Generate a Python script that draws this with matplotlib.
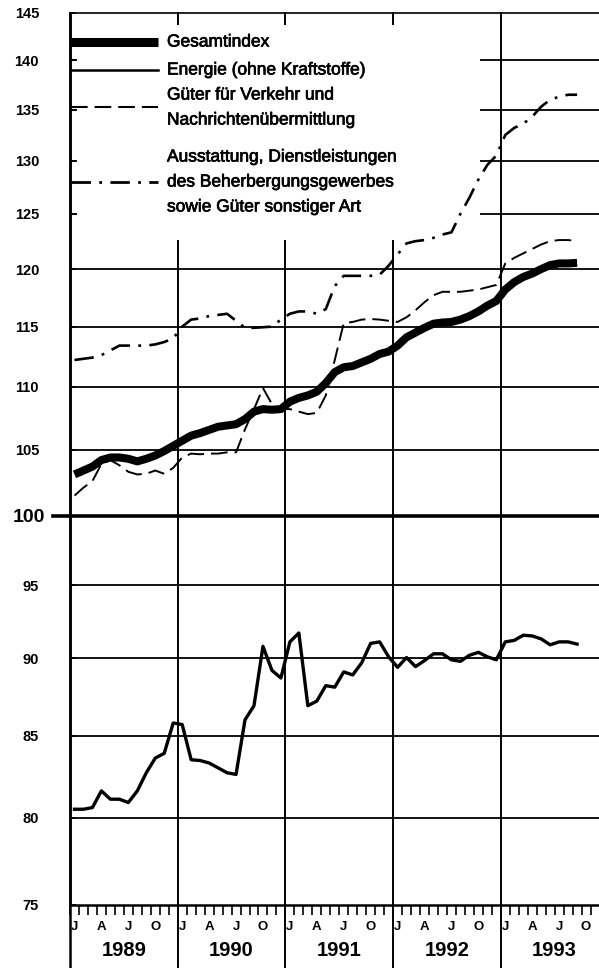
import numpy as np
import matplotlib.pyplot as plt
import matplotlib.transforms as mtransforms
import matplotlib.patheffects as pe
from matplotlib.lines import Line2D
from matplotlib.patches import Rectangle
from matplotlib.ticker import FixedLocator, NullLocator, NullFormatter

plt.rcParams['font.family'] = ['Liberation Sans', 'DejaVu Sans']
plt.rcParams['lines.scale_dashes'] = False

# monthly values, Jan 1989 .. Sep 1993 (1985 = 100)
years = [1989, 1990, 1991, 1992, 1993]
month_letters = ["J", "A", "J", "O"]
month_letter_idx = [0, 3, 6, 9]
y_ticks = [75, 80, 85, 90, 95, 100, 105, 110, 115, 120, 125, 130, 135, 140, 145]

gesamt = [103.1, 103.4, 103.7, 104.2, 104.4, 104.4, 104.3, 104.1, 104.3, 104.55, 104.9, 105.3,
          105.7, 106.1, 106.3, 106.55, 106.8, 106.9, 107.0, 107.4, 108.0, 108.2, 108.15, 108.2,
          108.8, 109.1, 109.3, 109.6, 110.3, 111.2, 111.6, 111.7, 112.0, 112.3, 112.7, 112.9,
          113.4, 114.1, 114.5, 114.9, 115.25, 115.35, 115.4, 115.6, 115.9, 116.3, 116.8, 117.2,
          118.2, 118.85, 119.3, 119.6, 120.0, 120.35, 120.5, 120.5, 120.55]

energie = [80.5, 80.5, 80.6, 81.6, 81.1, 81.1, 80.9, 81.6, 82.7, 83.6, 83.9, 85.8,
           85.7, 83.5, 83.45, 83.3, 83.0, 82.7, 82.6, 86.0, 86.9, 90.8, 89.2, 88.7,
           91.1, 91.7, 86.9, 87.2, 88.2, 88.1, 89.1, 88.9, 89.7, 91.0, 91.1, 90.1,
           89.4, 90.05, 89.45, 89.85, 90.3, 90.3, 89.9, 89.8, 90.2, 90.4, 90.1, 89.9,
           91.1, 91.2, 91.55, 91.5, 91.3, 90.9, 91.1, 91.1, 90.95]

verkehr = [101.5, 102.1, 102.6, 103.9, 104.2, 103.8, 103.3, 103.1, 103.15, 103.4, 103.15, 103.6,
           104.4, 104.7, 104.65, 104.7, 104.7, 104.8, 104.8, 106.6, 108.2, 109.9, 108.6, 108.2,
           108.2, 108.0, 107.8, 107.9, 109.3, 112.2, 115.3, 115.4, 115.6, 115.65, 115.6, 115.5,
           115.4, 115.8, 116.4, 117.1, 117.7, 118.0, 118.0, 118.0, 118.1, 118.2, 118.4, 118.6,
           120.5, 121.0, 121.4, 121.8, 122.2, 122.5, 122.6, 122.6, 122.5]

ausstattung = [112.2, 112.3, 112.4, 112.6, 113.0, 113.4, 113.4, 113.4, 113.4, 113.5, 113.7, 114.0,
               115.0, 115.6, 115.7, 115.9, 116.0, 116.1, 115.5, 114.9, 114.9, 114.95, 115.0, 115.6,
               116.1, 116.3, 116.3, 116.1, 116.5, 118.5, 119.4, 119.4, 119.4, 119.4, 119.5, 120.3,
               121.3, 122.3, 122.5, 122.6, 122.8, 123.1, 123.3, 125.0, 126.5, 128.2, 129.6, 130.5,
               132.5, 133.2, 133.6, 134.3, 135.3, 136.0, 136.3, 136.5, 136.5]

series_labels = ["Gesamtindex",
                 "Energie (ohne Kraftstoffe)",
                 "Güter für Verkehr und\nNachrichtenübermittlung",
                 "Ausstattung, Dienstleistungen\ndes Beherbergungsgewerbes\nsowie Güter sonstiger Art"]

# figure, axes in pixels (the chart is cropped on the right, so the axes runs past the edge)
W, H = 599, 968
L, B, AW, AH = 70, 63, 538.5, 892
fig = plt.figure(figsize=(W / 100, H / 100), dpi=100)
ax = fig.add_axes([L / W, B / H, AW / W, AH / H])


def ax_xy(px, py):
    # image pixel (from top left) -> axes fraction
    return (px - L) / AW, (H - B - py) / AH


x_tr = mtransforms.blended_transform_factory(ax.transData, ax.transAxes)
y_tr = mtransforms.blended_transform_factory(ax.transAxes, ax.transData)

styles = [dict(lw=5.8, ls='-', solid_capstyle='butt', zorder=6),
          dict(lw=2.4, ls='-', zorder=5),
          dict(lw=1.4, ls=(0, (12, 5)), zorder=4),
          dict(lw=1.9, ls=(0, (14, 6, 2, 6)), zorder=4)]

months = np.arange(len(gesamt)) + 0.5
for vals, st in zip([gesamt, energie, verkehr, ausstattung], styles):
    ax.plot(months, vals, color='black', solid_joinstyle='round', **st)

# grid
for v in y_ticks[1:-1]:
    if v == 100:
        ax.axhline(v, xmin=-0.032, color='black', lw=2.6, zorder=1.2, clip_on=False)
    else:
        ax.axhline(v, color='black', lw=1.3, zorder=0.8)
for i in range(len(years)):
    ax.add_line(Line2D([12 * i, 12 * i], [-0.075, 1], transform=x_tr, color='black',
                       lw=1.8 if i == 0 else 1.4, clip_on=False, zorder=0.8))

# white box behind the legend
x0, y1 = ax_xy(77, 25)
x1, y0 = ax_xy(480, 240)
ax.add_patch(Rectangle((x0, y0), x1 - x0, y1 - y0, transform=ax.transAxes,
                       facecolor='white', edgecolor='none', zorder=1))

# legend
bold_ish = [pe.withStroke(linewidth=0.5, foreground='black')]
handle_y = [42, 70, 107.5, 182]
handle_lw = [6.5, 1.8, 1.5, 2.0]
for lab, hy, st, hlw in zip(series_labels, handle_y, styles, handle_lw):
    hx0, hyy = ax_xy(71, hy)
    hx1, _ = ax_xy(158, hy)
    kw = dict(st)
    kw['zorder'] = 7
    kw['lw'] = hlw
    ax.add_line(Line2D([hx0, hx1], [hyy, hyy], transform=ax.transAxes, color='black', **kw))
    lines = lab.split("\n")
    for j, line in enumerate(lines):
        ty = hy - (len(lines) - 1) / 2 * 25 + j * 25
        tx, tyy = ax_xy(167, ty)
        ax.text(tx, tyy, line, transform=ax.transAxes, ha='left', va='center',
                fontsize=12.5, zorder=7, path_effects=bold_ish)

ax.set_yscale('log')
ax.set_ylim(75, 145)
ax.set_xlim(0, 60)

ax.yaxis.set_major_locator(FixedLocator(y_ticks))
ax.yaxis.set_minor_locator(NullLocator())
ax.yaxis.set_major_formatter(NullFormatter())
ax.yaxis.set_minor_formatter(NullFormatter())
ax.tick_params(axis='y', direction='in', length=4, width=1.2, left=True, right=False)
ax.set_xticks(np.arange(0, 61))
ax.set_xticklabels([])
ax.tick_params(axis='x', direction='out', length=7.5, width=1.2, bottom=True, top=False)

ax.spines['right'].set_visible(False)
ax.spines['left'].set_linewidth(1.8)
ax.spines['bottom'].set_linewidth(1.8)
ax.spines['top'].set_linewidth(1.2)

# y labels
for v in y_ticks:
    big = v == 100
    rx, _ = ax_xy(45 if big else 39, 0)
    ax.text(rx, v, str(v), transform=y_tr, ha='right', va='center_baseline',
            fontsize=14 if big else 10.5, fontweight='bold', clip_on=False)

# month letters and years under the axis
_, my = ax_xy(0, 930)
_, yy = ax_xy(0, 956)
for i, yr in enumerate(years):
    for idx, letter in zip(month_letter_idx, month_letters):
        ax.text(12 * i + idx + 0.5, my, letter, transform=x_tr, ha='center', va='baseline',
                fontsize=9.5, fontweight='bold', clip_on=False)
    ax.text(12 * i + 6, yy, str(yr), transform=x_tr, ha='center', va='baseline',
            fontsize=14.5, fontweight='bold', clip_on=False)

fig.savefig('out.png', dpi=100)
